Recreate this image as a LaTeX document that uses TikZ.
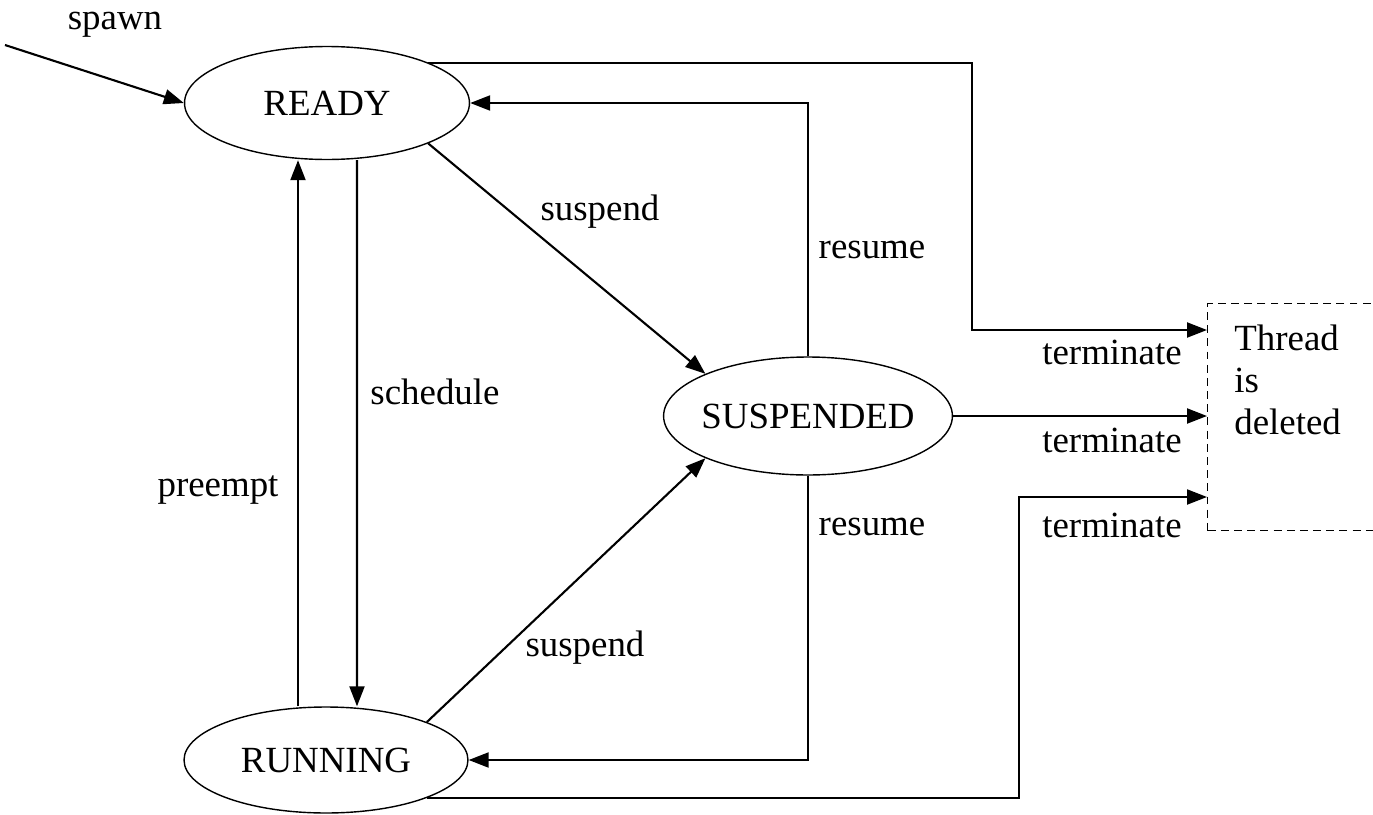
\documentclass[tikz,border=0pt]{standalone}
\usepackage{fontspec}
\setmainfont{Liberation Serif}
\usetikzlibrary{arrows.meta,shapes.geometric}
\begin{document}
\begin{tikzpicture}[x=0.02cm,y=-0.02cm,
  every node/.style={font=\fontsize{21}{24}\selectfont},
  state/.style={draw,ellipse,inner sep=0pt,line width=0.8pt},
  conn/.style={line width=1.2pt,-{Triangle[length=0.4cm,width=0.3cm]}},
  lbl/.style={inner sep=0pt}]
\useasboundingbox (0,0) rectangle (1373,815);
\node[state,minimum width=5.7cm,minimum height=2.26cm] (ready) at (327,103) {READY};
\node[state,minimum width=5.68cm,minimum height=2.12cm] (run) at (326,760) {RUNNING};
\node[state,inner xsep=-0.09cm,minimum width=5.76cm,minimum height=2.36cm] (susp) at (808,416) {SUSPENDED};
\node[draw,dash pattern=on 4.5pt off 3pt,line width=0.8pt,anchor=north west,minimum width=4.5cm,minimum height=4.54cm,inner sep=0pt] (del) at (1207,303) {};
\node[anchor=west,align=left,inner sep=0pt] (deltext) at (1234,380) {Thread\\is\\deleted};
\coordinate (start) at (5,45);
\coordinate (t1) at (972,330);
\coordinate (t3) at (1019,497);
% spawn
\draw[conn] (start) -- (ready.west);
\node[lbl] (lspawn) at (115,25) {spawn};
% ready -> terminate
\draw[conn] (ready.north east) -| (t1) -- (t1 -| del.west);
% resume top
\draw[conn] (susp.north) |- (ready.east);
% suspend top
\draw[conn] (ready.south east) -- (susp.north west);
% schedule
\draw[conn] ([xshift=0.6cm]ready.south) -- ([xshift=0.62cm]run.north);
% preempt
\draw[conn] ([xshift=-0.56cm]run.north) -- ([xshift=-0.58cm]ready.south);
% suspend bottom
\draw[conn] (run.north east) -- (susp.south west);
% resume bottom
\draw[conn] (susp.south) |- (run.east);
% suspended -> terminate
\draw[conn] (susp.east) -- (susp.east -| del.west);
% running -> terminate
\draw[conn] (run.south east) -| (t3) -- (t3 -| del.west);
% labels
\node[lbl] (ls1) at (600,212) {suspend};
\node[lbl] (lr1) at (872,250) {resume};
\node[lbl] (lsch) at (435,392) {schedule};
\node[lbl] (lpre) at (218,490) {preempt};
\node[lbl] (lr2) at (872,527) {resume};
\node[lbl] (ls2) at (585,648) {suspend};
\node[lbl] (lt1) at (1112,352) {terminate};
\node[lbl] (lt2) at (1112,440) {terminate};
\node[lbl] (lt3) at (1112,525) {terminate};
\end{tikzpicture}
\end{document}
